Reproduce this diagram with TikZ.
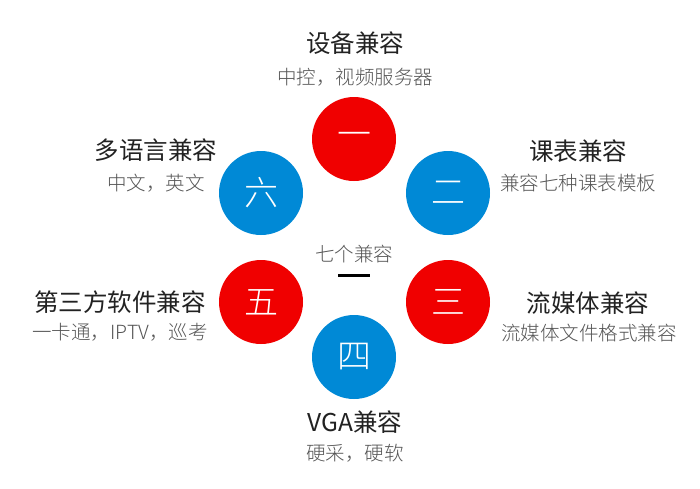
\documentclass[tikz,border=0pt]{standalone}
\usepackage{fontspec}
\setmainfont{Noto Sans CJK SC}
\newfontfamily\lightf{Noto Sans CJK SC Light}
\definecolor{cred}{RGB}{240,0,0}
\definecolor{cblue}{RGB}{0,137,214}
\definecolor{ttl}{RGB}{34,34,34}
\definecolor{sub}{RGB}{85,85,85}
\begin{document}
\begin{tikzpicture}[x=1pt,y=-1pt,
  circ/.style={circle,minimum size=84pt,inner sep=0pt,text=white,font=\lightf\fontsize{34pt}{34pt}\selectfont},
  redc/.style={circ,fill=cred},
  bluec/.style={circ,fill=cblue},
  ttlt/.style={inner sep=0pt,text=ttl,font=\fontsize{24.5pt}{24.5pt}\selectfont},
  subt/.style={inner sep=0pt,text=sub,font=\lightf\fontsize{19.5pt}{19.5pt}\selectfont}]
\useasboundingbox (0,0) rectangle (700,488);
\fill[white] (0,0) rectangle (700,488);
\node[redc]  (c1) at (354,139) {一};
\node[bluec] (c2) at (448,193) {二};
\node[redc]  (c3) at (448,302) {三};
\node[bluec] (c4) at (354,357) {四};
\node[redc]  (c5) at (261,302) {五};
\node[bluec] (c6) at (261,193) {六};
\node[subt] (center) at (354,254) {七个兼容};
\coordinate (la) at (338,275);
\coordinate (lb) at (370,275);
\draw[line width=3pt,black] (la) -- (lb);
\node[ttlt] (t1) at (355,43) {设备兼容};
\node[subt] (s1) at (355,77) {中控，视频服务器};
\node[ttlt] (t2) at (578,151) {课表兼容};
\node[subt] (s2) at (578,183) {兼容七种课表模板};
\node[ttlt] (t3) at (588,303) {流媒体兼容};
\node[subt] (s3) at (589,333) {流媒体文件格式兼容};
\node[ttlt] (t4) at (355,422) {VGA兼容};
\node[subt] (s4) at (355,453) {硬采，硬软};
\node[ttlt] (t5) at (120,302) {第三方软件兼容};
\node[subt] (s5) at (120,332) {一卡通，IPTV，巡考};
\node[ttlt] (t6) at (156,150) {多语言兼容};
\node[subt] (s6) at (156,183) {中文，英文};
\end{tikzpicture}
\end{document}
